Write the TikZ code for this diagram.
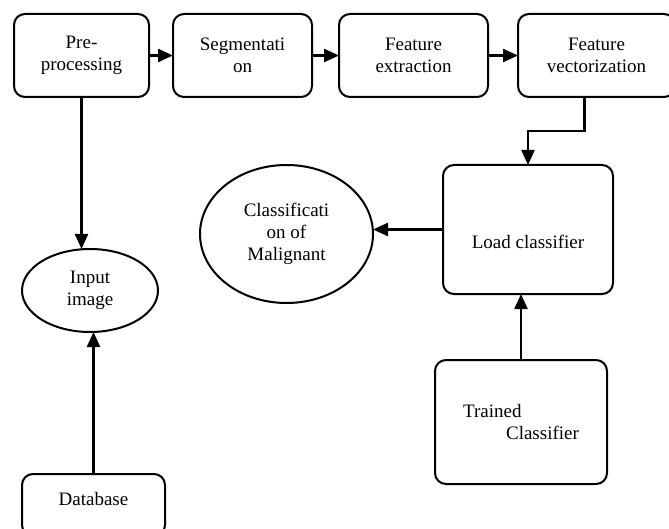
\documentclass[tikz,border=0pt]{standalone}
\usepackage{fontspec}
\setmainfont{Liberation Serif}
\usetikzlibrary{shapes.geometric,arrows.meta}
\begin{document}
\begin{tikzpicture}[x=1pt,y=-1pt,
  every node/.style={font=\fontsize{19}{22}\selectfont, inner sep=0pt, outer sep=0pt},
  rbox/.style={draw, line width=2pt, rounded corners=11pt, rectangle, align=center},
  ell/.style={draw, line width=2pt, ellipse, align=center},
  arr/.style={line width=2.3pt, -{Triangle[length=15pt,width=13pt]}}]
\useasboundingbox (0,0) rectangle (669,529);
\clip (0,0) rectangle (669,529);
\node[rbox, minimum width=135pt, minimum height=83pt] (pre) at (81.5,55.5) {Pre-\\processing};
\node[rbox, minimum width=139pt, minimum height=83pt] (seg) at (242.5,55.5) {Segmentati\\on};
\node[rbox, minimum width=149pt, minimum height=83pt] (fe) at (413.5,55.5) {Feature\\extraction};
\node[rbox, minimum width=157pt, minimum height=83pt] (fv) at (596.5,55.5) {Feature\\vectorization};
\node[rbox, minimum width=170pt, minimum height=129pt] (load) at (528,229.5) {\raisebox{-12pt}[\height][\depth]{Load classifier}};
\node[rbox, minimum width=172pt, minimum height=124pt, align=left] (trained) at (521,422) {Trained\\\hspace*{43pt}Classifier};
\node[ell, minimum width=173pt, minimum height=138pt] (class) at (286.5,234) {Classificati\\on of\\Malignant};
\node[ell, minimum width=136pt, minimum height=83pt] (input) at (90,290.5) {Input\\image};
\node[rbox, minimum width=143pt, minimum height=62pt] (db) at (93.5,505) {\raisebox{6pt}[\height][\depth]{Database}};
\draw[arr] (pre.east) -- (seg.west);
\draw[arr] (seg.east) -- (fe.west);
\draw[arr] (fe.east) -- (fv.west);
\draw[arr] ([xshift=-12pt]fv.south) -- ++(0,34) -| (load.north);
\draw[arr] (load.west) -- (load.west -| class.east);
\draw[arr] (trained.north) -- (trained.north |- load.south);
\draw[arr] (pre.south) -- (pre.south |- input.north);
\draw[arr] (db.north) -- (db.north |- input.south);
\end{tikzpicture}
\end{document}
